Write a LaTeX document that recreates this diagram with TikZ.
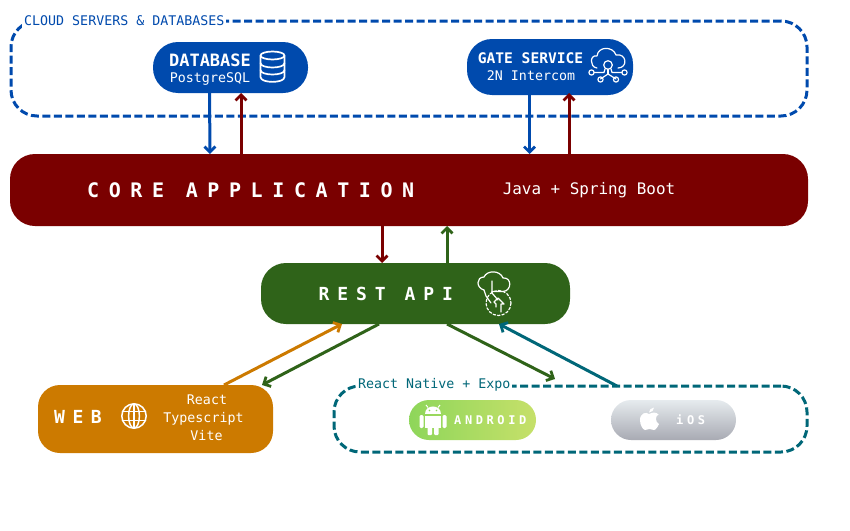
\documentclass[tikz,border=0pt]{standalone}
\usepackage{fontspec}
\setmainfont{DejaVu Sans Mono}
\usetikzlibrary{arrows.meta,calc}
\definecolor{cblue}{HTML}{004AAD}
\definecolor{cred}{HTML}{7A0000}
\definecolor{cgreen}{HTML}{2F6319}
\definecolor{corange}{HTML}{CC7A00}
\definecolor{cteal}{HTML}{006778}
\definecolor{andA}{HTML}{8ED65A}
\definecolor{andB}{HTML}{C6E06A}
\definecolor{iosA}{HTML}{E6EBEE}
\definecolor{iosB}{HTML}{A8AAB3}
\newcommand{\fs}[1]{\fontsize{#1}{#1}\selectfont}
\newcommand{\spc}[1]{\addfontfeature{LetterSpace=#1}}
\tikzset{
  x=1pt,y=-1pt,
  pill/.style={minimum width=#1,inner sep=0pt,outer sep=0pt,text=white,align=center},
  grp/.style={draw=#1,line width=3pt,dash pattern=on 8pt off 3.5pt,rounded corners=26pt,inner sep=0pt,outer sep=0pt},
  grplabel/.style={fill=white,inner sep=2pt,text=#1,font=\fs{13.3}},
  txt/.style={text=white,inner sep=0pt},
  arr/.style={draw=#1,line width=3pt,-{Straight Barb[length=5.5pt,width=11pt,line width=2.8pt]}},
  ico/.style={draw=white,line width=1.7pt,fill=none,line cap=round,line join=round},
}
\begin{document}
\begin{tikzpicture}
\useasboundingbox (0,0) rectangle (850,530);
% groups
\node[grp=cblue,minimum width=796pt,minimum height=95pt] (cloud) at (409,68.5) {};
\node[grplabel=cblue,anchor=west] (cloudlabel) at (22,21) {CLOUD SERVERS \& DATABASES};
\node[grp=cteal,minimum width=473pt,minimum height=66pt] (mobile) at (570.5,419) {};
\node[grplabel=cteal,anchor=west] (mobilelabel) at (356,385) {React Native + Expo};
% boxes
\node[pill=155pt,minimum height=51pt,fill=cblue,rounded corners=25pt] (db) at (230.5,67.5) {};
\node[pill=166pt,minimum height=56pt,fill=cblue,rounded corners=25pt] (gate) at (550,67) {};
\node[pill=798pt,minimum height=72pt,fill=cred,rounded corners=25pt] (core) at (409,190) {};
\node[pill=309pt,minimum height=61pt,fill=cgreen,rounded corners=25pt] (rest) at (415.5,293.5) {};
\node[pill=235pt,minimum height=68pt,fill=corange,rounded corners=22pt] (web) at (155.5,419) {};
\node[pill=127pt,minimum height=40pt,left color=andA,right color=andB,rounded corners=20pt] (android) at (472.5,420) {};
\node[pill=125pt,minimum height=40pt,top color=iosA,bottom color=iosB,rounded corners=20pt] (ios) at (673.5,420) {};
% texts
\node[txt,font=\fs{17}\bfseries] (dbt) at (210,60) {DATABASE};
\node[txt,font=\fs{13.3}] (dbs) at (210,78.5) {PostgreSQL};
\node[txt,font=\fs{14.6}\bfseries] (gatet) at (530.5,58) {GATE SERVICE};
\node[txt,font=\fs{13.3}] (gates) at (531,76) {2N Intercom};
\node[txt,font=\fs{20}\bfseries\spc{48},anchor=west] (coret) at (87,190) {CORE APPLICATION};
\node[txt,font=\fs{15.9}] (cores) at (589,190.5) {Java + Spring Boot};
\node[txt,font=\fs{18}\bfseries\spc{44},anchor=west] (restt) at (318.5,293.5) {REST API};
\node[txt,font=\fs{18}\bfseries\spc{42},anchor=west] (webt) at (54,416.5) {WEB};
\node[txt,font=\fs{13.3},align=center] (webs) at (203.5,418) {\hspace{7pt}React\\[4.5pt]Typescript\\[4.5pt]\hspace{6pt}Vite};
\node[txt,font=\fs{12}\bfseries\spc{30},anchor=west] (andt) at (454,420.5) {ANDROID};
\node[txt,font=\fs{12}\bfseries\spc{30},anchor=west] (iost) at (676,420) {iOS};
% connectors
\draw[arr=cblue] ([xshift=-21pt]db.south) -- ([xshift=-199pt]core.north);
\draw[arr=cred] ([xshift=-168pt]core.north) -- ([xshift=10.5pt]db.south);
\draw[arr=cblue] ([xshift=-20.5pt]gate.south) -- ([xshift=120.5pt]core.north);
\draw[arr=cred] ([xshift=160pt]core.north) -- ([xshift=19pt,yshift=2pt]gate.south);
\draw[arr=cred] ([xshift=-27pt]core.south) -- ([xshift=-33.5pt]rest.north);
\draw[arr=cgreen] ([xshift=31.5pt]rest.north) -- ([xshift=38pt]core.south);
\draw[arr=corange] ([xshift=68.5pt]web.north) -- ([xshift=-73.5pt]rest.south);
\draw[arr=cgreen] ([xshift=-36.5pt]rest.south) -- ([xshift=106.5pt]web.north);
\draw[arr=cgreen] ([xshift=31.5pt]rest.south) -- ([xshift=-15.5pt,yshift=7pt]mobile.north);
\draw[arr=cteal] ([xshift=46.5pt]mobile.north) -- ([xshift=83.5pt]rest.south);
% database icon
\begin{scope}[ico]
\draw (272.5,55.5) ellipse[x radius=12,y radius=4];
\draw (260.5,55.5) -- (260.5,77) .. controls (260.5,83.5) and (284.5,83.5) .. (284.5,77) -- (284.5,55.5);
\draw (260.5,63) .. controls (260.5,69) and (284.5,69) .. (284.5,63);
\draw (260.5,70) .. controls (260.5,76) and (284.5,76) .. (284.5,70);
\end{scope}
% gate cloud icon
\begin{scope}[ico,line width=1.2pt]
\draw (597,68) .. controls (589,67) and (590,54) .. (597,56) .. controls (598,46) and (613,46) .. (616,55) .. controls (627,53) and (628,68) .. (618,68);
\draw (608,65) circle[radius=4.3];
\draw (608,69.3) -- (608,74);
\draw (594,72.5) -- (604,72.5) -- (605,69);
\draw (622,72.5) -- (612,72.5) -- (611,69);
\draw (600.5,79) -- (608,74) -- (616,79);
\draw (591.5,72.5) circle[radius=2.6];
\draw (624.5,72.5) circle[radius=2.6];
\draw (600.5,79.5) circle[radius=2.6];
\draw (616,79.5) circle[radius=2.6];
\end{scope}
% rest icon
\begin{scope}[ico,line width=1.2pt]
\draw (484,290) .. controls (476,288) and (476,277) .. (484,277) .. controls (487,270) and (500,270) .. (503,278) .. controls (512,277) and (512,291) .. (503,291.5) -- (492,291.5);
\draw (492,281) -- (492,293) -- (498,300);
\draw (484,290) -- (486,296) -- (491,303);
\draw (494,302) -- (498,298) -- (504,304) -- (501,304) -- (501,312);
\draw (494,302) -- (496,304) -- (496,307);
\draw[dash pattern=on 2.5pt off 2pt] (498.5,303) circle[radius=12.5];
\end{scope}
% globe
\begin{scope}[ico,line width=1.5pt]
\draw (134,416) circle[radius=12.2];
\draw (134,416) ellipse[x radius=5.4,y radius=12.2];
\draw (134,403.8) -- (134,428.2);
\draw (122.4,411.5) -- (145.6,411.5);
\draw (122.4,420.5) -- (145.6,420.5);
\end{scope}
% android
\fill[white] (425,414) .. controls (425,404) and (441,404) .. (441,414) -- cycle;
\draw[white,line width=1pt] (428,407.5) -- (426,405) (438,407.5) -- (440,405);
\fill[white] (425,415.5) rectangle (441,428);
\fill[white,rounded corners=1pt] (427.5,426) rectangle (432,435) (434,426) rectangle (438.5,435);
\fill[white,rounded corners=1.3pt] (419.5,415) rectangle (423.5,428) (442.5,415) rectangle (446.5,428);
\fill[andA] (429.5,410.5) circle[radius=.9] (436.5,410.5) circle[radius=.9];
% apple
\fill[white] (649,414) .. controls (646,411.5) and (640,413) .. (640,420) .. controls (640,425) and (643,430) .. (645,430) .. controls (647,430) and (648,429) .. (649.5,429) .. controls (651,429) and (652,430) .. (654,430) .. controls (656,430) and (658,426) .. (659,424) .. controls (655,422) and (655,416) .. (658.5,414.5) .. controls (656,411.5) and (652,412.5) .. (649,414) -- cycle;
\fill[white] (649,412.5) .. controls (649,410) and (651,408) .. (654,407.5) .. controls (654,410) and (652,412.5) .. (649,412.5) -- cycle;
\end{tikzpicture}
\end{document}
